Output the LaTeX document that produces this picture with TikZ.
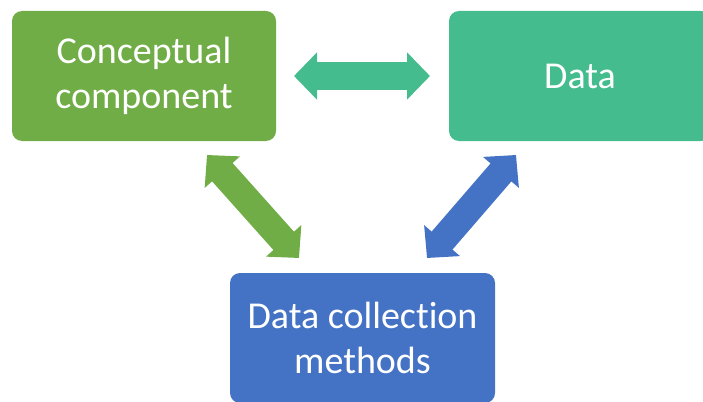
\documentclass[tikz,border=0pt]{standalone}
\usepackage{fontspec}
\setmainfont{Carlito}[Ligatures=NoCommon]
\usetikzlibrary{arrows.meta}
\definecolor{cgreen}{HTML}{70AD47}
\definecolor{cteal}{HTML}{44BC8E}
\definecolor{cblue}{HTML}{4472C4}
\begin{document}
\begin{tikzpicture}[x=1pt,y=-1pt,
  box/.style={rectangle, rounded corners=10pt, minimum height=130pt, text=white,
    font=\fontsize{38}{45}\selectfont, align=center, inner sep=0pt},
  dblarrow/.style={line width=27.5pt,
    {Triangle[length=23pt,width=46pt]}-{Triangle[length=23pt,width=46pt]}}]
\useasboundingbox (0,0) rectangle (703,401);
\clip (0,0) rectangle (703,401);
\node[box, fill=cgreen, minimum width=264pt] (concept) at (144,76) {Conceptual\\component};
\node[box, fill=cteal, minimum width=262pt] (data) at (580,76) {Data};
\node[box, fill=cblue, minimum width=265pt] (methods) at (362.5,338) {Data collection\\methods};
\coordinate (h1) at (294,76);
\coordinate (h2) at (430,76);
\coordinate (g1) at (207,155);
\coordinate (g2) at (299,258);
\coordinate (b1) at (516,155);
\coordinate (b2) at (427,258);
\draw[dblarrow, cteal] (h1) -- (h2);
\draw[dblarrow, cgreen] (g1) -- (g2);
\draw[dblarrow, cblue] (b1) -- (b2);
\end{tikzpicture}
\end{document}
